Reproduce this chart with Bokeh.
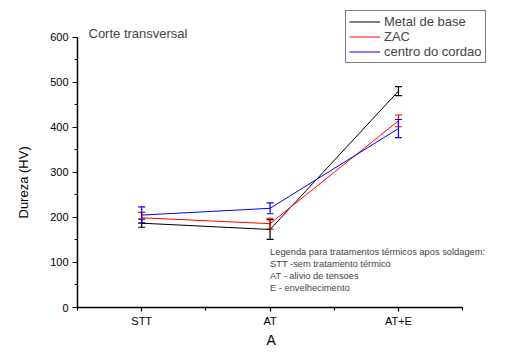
from bokeh.plotting import figure
from bokeh.models import (ColumnDataSource, Whisker, TeeHead, FixedTicker, Legend, LegendItem,
                          Label, Range1d, Title)
from bokeh.embed import file_html
from bokeh.resources import INLINE

# Data
categories = ["STT", "AT", "AT+E"]
x_pos = [1, 2, 3]
metal_base = [187, 173, 480]
metal_base_err = [9, 22, 10]
zac = [199, 186, 414]
zac_err = [12, 12, 13]
centro = [205, 220, 397]
centro_err = [18, 12, 20]
series_names = ["Metal de base", "ZAC", "centro do cordao"]
colors = ["black", "red", "blue"]
notes = ["Legenda para tratamentos térmicos apos soldagem:",
         "STT -sem tratamento térmico",
         "AT - alivio de tensoes",
         "E - envelhecimento"]
note_x = 2.0
note_y = 124

FONT = "Liberation Sans"

p = figure(width=490, height=347, output_backend="svg", toolbar_location=None,
           x_range=Range1d(0.5, 3.717), y_range=Range1d(0, 681),
           min_border_left=75, min_border_right=0, min_border_top=0, min_border_bottom=36)
p.outline_line_color = None
p.grid.visible = False
p.background_fill_color = "white"

# axes
p.xaxis.ticker = FixedTicker(ticks=x_pos, minor_ticks=[0.5, 1.5, 2.5, 3.5])
p.xaxis.major_label_overrides = {x: c for x, c in zip(x_pos, categories)}
p.xaxis.bounds = (0.5, 3.5)
p.yaxis.ticker = FixedTicker(ticks=[0, 100, 200, 300, 400, 500, 600],
                             minor_ticks=[50, 150, 250, 350, 450, 550])
p.yaxis.bounds = (0, 600)
for ax in (p.xaxis, p.yaxis):
    ax.axis_line_width = 1.5
    ax.major_tick_line_width = 1.2
    ax.minor_tick_line_width = 1.2
    ax.major_tick_out = 5
    ax.major_tick_in = 0
    ax.minor_tick_out = 3
    ax.minor_tick_in = 0
    ax.major_label_text_font = FONT
    ax.major_label_text_font_size = "11px"
    ax.major_label_text_color = "black"
p.xaxis.major_tick_out = 4
p.xaxis.major_label_standoff = 3
p.yaxis.major_label_standoff = 4

p.add_layout(Title(text="Dureza (HV)", align="left", offset=89, vertical_align="top",
                   standoff=30, text_font=FONT, text_font_size="13px",
                   text_font_style="normal", text_color="black"), "left")
p.add_layout(Title(text="A", align="left", offset=189, standoff=0,
                   text_font=FONT, text_font_size="14px",
                   text_font_style="normal", text_color="black"), "below")

items = []
for name, vals, errs, col in zip(series_names, [metal_base, zac, centro],
                                 [metal_base_err, zac_err, centro_err], colors):
    src = ColumnDataSource(dict(x=x_pos, y=vals,
                                lo=[v - e for v, e in zip(vals, errs)],
                                hi=[v + e for v, e in zip(vals, errs)]))
    r = p.line("x", "y", source=src, line_color=col, line_width=1)
    w = Whisker(base="x", lower="lo", upper="hi", source=src, line_color=col, line_width=1.2,
                upper_head=TeeHead(size=7, line_color=col, line_width=1.2),
                lower_head=TeeHead(size=7, line_color=col, line_width=1.2))
    p.add_layout(w)
    items.append(LegendItem(label=name, renderers=[r]))

legend = Legend(items=items, location=(268, 244), orientation="vertical",
                label_text_font=FONT, label_text_font_size="13px",
                glyph_width=31, glyph_height=15, label_height=15, label_standoff=4,
                spacing=0, padding=3, margin=0,
                border_line_color="black", border_line_width=1,
                background_fill_alpha=1.0)
p.add_layout(legend)

p.add_layout(Label(x=11, y=274, x_units="screen", y_units="screen",
                   text="Corte transversal", text_font=FONT, text_font_size="13px",
                   text_baseline="middle"))

for i, t in enumerate(notes):
    p.add_layout(Label(x=note_x, y=note_y, x_units="data", y_units="data", y_offset=-12.2 * i,
                       text=t, text_font=FONT, text_font_size="9.3px",
                       text_baseline="middle"))

open("out.html", "w").write(file_html(p, INLINE))
